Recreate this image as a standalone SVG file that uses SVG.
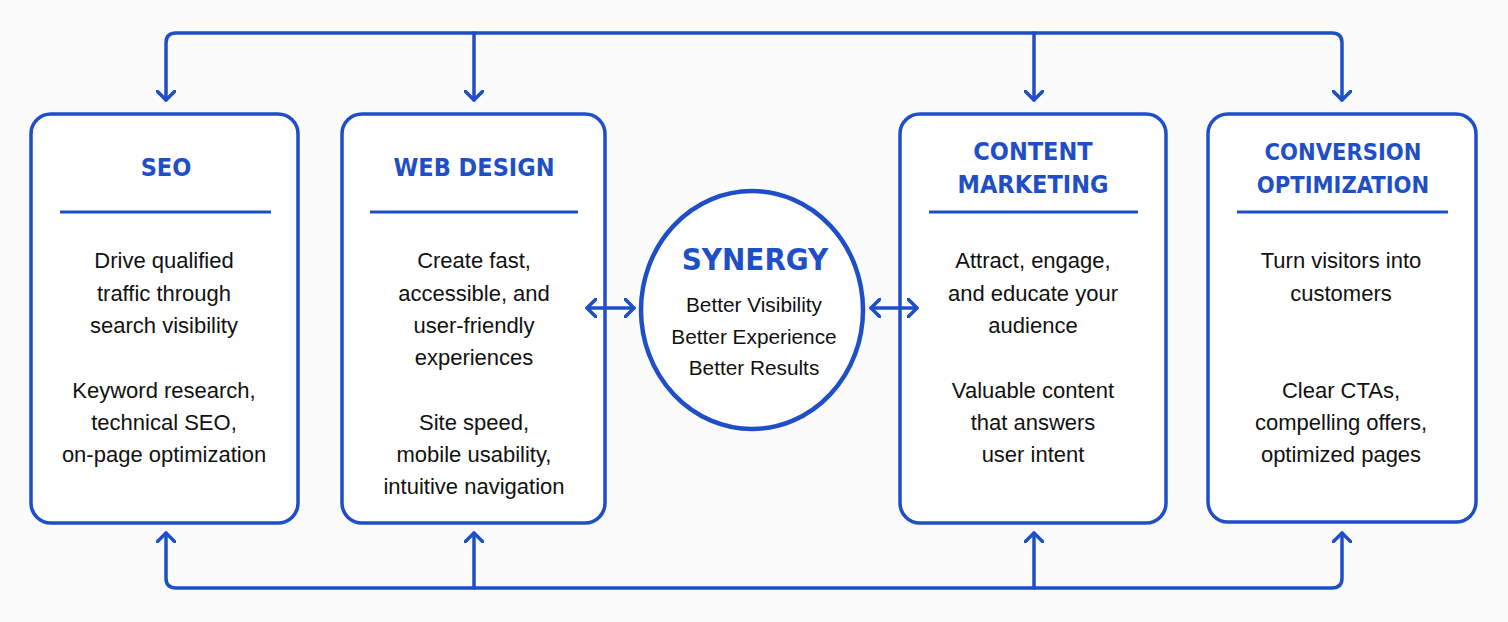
<svg xmlns="http://www.w3.org/2000/svg" width="1508" height="622" viewBox="0 0 1508 622">
<defs>
<style>
.box{fill:#ffffff;stroke:#1f4fc6;stroke-width:3.5}
.div{stroke:#1f4fc6;stroke-width:3}
.con{fill:none;stroke:#1f4fc6;stroke-width:3.5;stroke-linecap:round;stroke-linejoin:round}
.title{font-family:"DejaVu Sans Condensed","DejaVu Sans",sans-serif;font-weight:bold;font-size:25px;fill:#1f4fc6;text-anchor:middle}
.body{font-family:"Liberation Sans",Arial,sans-serif;font-size:22px;fill:#111111;text-anchor:middle}
.syn{font-size:20.8px}
</style>
<marker id="ah" viewBox="0 0 20 20" refX="10" refY="10" markerWidth="20" markerHeight="20" markerUnits="userSpaceOnUse" orient="auto-start-reverse">
<path d="M1,1 L10,10 L1,19" fill="none" stroke="#1f4fc6" stroke-width="3.5" stroke-linecap="round" stroke-linejoin="round"/>
</marker>
</defs>
<rect width="1508" height="622" fill="#fbfbfc"/>

<g id="seo">
<rect class="box" x="31" y="114" width="267" height="409" rx="20"/>
<text class="title" x="166" y="176">SEO</text>
<line class="div" x1="60" y1="212" x2="271" y2="212"/>
<text class="body" x="164" y="268">Drive qualified</text>
<text class="body" x="164" y="301">traffic through</text>
<text class="body" x="164" y="333">search visibility</text>
<text class="body" x="164" y="398">Keyword research,</text>
<text class="body" x="164" y="430">technical SEO,</text>
<text class="body" x="164" y="462">on-page optimization</text>
</g>

<g id="web-design">
<rect class="box" x="342" y="114" width="263" height="409" rx="20"/>
<text class="title" x="474" y="176">WEB DESIGN</text>
<line class="div" x1="370" y1="212" x2="578" y2="212"/>
<text class="body" x="474" y="268">Create fast,</text>
<text class="body" x="474" y="301">accessible, and</text>
<text class="body" x="474" y="333">user-friendly</text>
<text class="body" x="474" y="365">experiences</text>
<text class="body" x="474" y="430">Site speed,</text>
<text class="body" x="474" y="462">mobile usability,</text>
<text class="body" x="474" y="494">intuitive navigation</text>
</g>

<g id="synergy">
<ellipse cx="752" cy="310" rx="111" ry="119" fill="#ffffff" stroke="#1f4fc6" stroke-width="4.5"/>
<text class="title" x="755" y="270" style="font-size:31px">SYNERGY</text>
<text class="body syn" x="754" y="312">Better Visibility</text>
<text class="body syn" x="754" y="344">Better Experience</text>
<text class="body syn" x="754" y="375">Better Results</text>
</g>

<g id="content-marketing">
<rect class="box" x="900" y="114" width="266" height="409" rx="20"/>
<text class="title" x="1033" y="160">CONTENT</text>
<text class="title" x="1033" y="193">MARKETING</text>
<line class="div" x1="929" y1="212" x2="1138" y2="212"/>
<text class="body" x="1033" y="268">Attract, engage,</text>
<text class="body" x="1033" y="301">and educate your</text>
<text class="body" x="1033" y="333">audience</text>
<text class="body" x="1033" y="398">Valuable content</text>
<text class="body" x="1033" y="430">that answers</text>
<text class="body" x="1033" y="462">user intent</text>
</g>

<g id="conversion-optimization">
<rect class="box" x="1208" y="114" width="268" height="408" rx="20"/>
<text class="title" x="1343" y="160" style="font-size:23.5px">CONVERSION</text>
<text class="title" x="1343" y="193" style="font-size:23.5px">OPTIMIZATION</text>
<line class="div" x1="1237" y1="212" x2="1448" y2="212"/>
<text class="body" x="1341" y="268">Turn visitors into</text>
<text class="body" x="1341" y="301">customers</text>
<text class="body" x="1341" y="398">Clear CTAs,</text>
<text class="body" x="1341" y="430">compelling offers,</text>
<text class="body" x="1341" y="462">optimized pages</text>
</g>

<g id="connectors">
<path class="con" d="M166,100 V43 Q166,33 176,33 H1332 Q1342,33 1342,43 V100" marker-start="url(#ah)" marker-end="url(#ah)"/>
<path class="con" d="M474,33 V100" marker-end="url(#ah)"/>
<path class="con" d="M1034,33 V100" marker-end="url(#ah)"/>
<path class="con" d="M166,533 V578 Q166,588 176,588 H1332 Q1342,588 1342,578 V533" marker-start="url(#ah)" marker-end="url(#ah)"/>
<path class="con" d="M474,588 V533" marker-end="url(#ah)"/>
<path class="con" d="M1034,588 V533" marker-end="url(#ah)"/>
<path class="con" d="M587,308 H634" marker-start="url(#ah)" marker-end="url(#ah)"/>
<path class="con" d="M871,308 H917" marker-start="url(#ah)" marker-end="url(#ah)"/>
</g>
</svg>
